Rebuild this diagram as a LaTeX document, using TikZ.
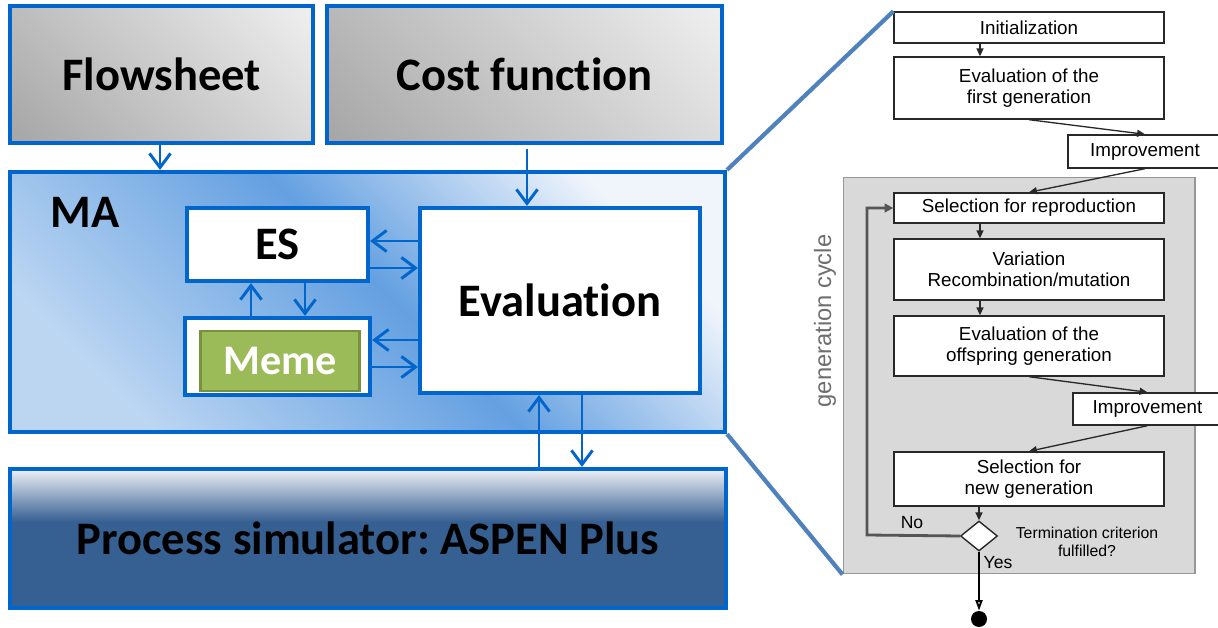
\documentclass[tikz,border=0pt]{standalone}
\usepackage{fontspec}
\setmainfont{Carlito}[Ligatures=NoCommon]
\newfontfamily\flowfont{Liberation Sans}
\usetikzlibrary{arrows.meta,shapes.geometric,calc}
\definecolor{boxblue}{RGB}{0,102,204}
\definecolor{zoomblue}{RGB}{79,129,189}
\definecolor{fsdark}{RGB}{150,150,150}
\definecolor{fslight}{RGB}{255,255,255}
\definecolor{malight}{RGB}{188,214,242}
\definecolor{madark}{RGB}{100,160,225}
\definecolor{mawhite}{RGB}{240,245,252}
\definecolor{simlight}{RGB}{238,240,246}
\definecolor{simdark}{RGB}{54,95,146}
\definecolor{memegreen}{RGB}{155,187,89}
\definecolor{memeedge}{RGB}{118,146,60}
\definecolor{cyclegray}{RGB}{217,217,217}
\definecolor{cycleedge}{RGB}{150,150,150}
\definecolor{flowedge}{RGB}{40,40,40}
\definecolor{loopgray}{RGB}{85,85,85}
\definecolor{labelgray}{RGB}{110,110,110}
\pgfdeclareverticalshading{fsshade}{100bp}{color(0bp)=(fsdark); color(100bp)=(fslight)}
\pgfdeclareverticalshading{mashade}{100bp}{color(0bp)=(malight); color(25bp)=(malight); color(52bp)=(madark); color(75bp)=(mawhite); color(100bp)=(mawhite)}
\pgfdeclareverticalshading{simshade}{100bp}{color(0bp)=(simdark); color(56bp)=(simdark); color(75bp)=(simlight); color(100bp)=(simlight)}
\frenchspacing

\begin{document}
\begin{tikzpicture}[x=0.02cm,y=-0.02cm,
  bluebox/.style={draw=boxblue,line width=2.4pt,font=\fontsize{26.5}{30}\selectfont\bfseries},
  barrow/.style={draw=boxblue,line width=1.7pt,-{Straight Barb[length=8pt,width=12pt]}},
  flowbox/.style={draw=flowedge,fill=white,line width=0.8pt,minimum width=5.4cm,align=center,inner sep=1pt,
    font=\flowfont\fontsize{10.7}{12}\selectfont},
  farrow/.style={draw=flowedge,line width=0.75pt,-{Triangle[length=4.5pt,width=4pt]}},
  zoomline/.style={draw=zoomblue,line width=2.4pt}]
\useasboundingbox (0,0) rectangle (1218,628);

% input boxes
\node[bluebox,shade,shading=fsshade,shading angle=-45,
  minimum width=6.06cm,minimum height=2.74cm] (fs) at (161.5,74.5) {Flowsheet};
\node[bluebox,shade,shading=fsshade,shading angle=-45,
  minimum width=7.9cm,minimum height=2.74cm] (cf) at (524.5,74.5) {Cost function};

% memetic algorithm
\node[bluebox,shade,shading=mashade,shading angle=-45,
  minimum width=14.3cm,minimum height=5.2cm] (ma) at (367.5,302) {};
\node[font=\fontsize{26.5}{30}\selectfont\bfseries] (matext) at (85,212) {MA};
\node[bluebox,fill=white,minimum width=3.62cm,minimum height=1.46cm] (es) at (277.5,244.5) {ES};
\node[bluebox,fill=white,minimum width=3.7cm,minimum height=1.54cm] (memebox) at (277.5,356.5) {};
\node[draw=memeedge,fill=memegreen,line width=1.7pt,text=white,
  font=\fontsize{24}{28}\selectfont\bfseries,
  minimum width=3.2cm,minimum height=1.2cm] (meme) at (280,361) {Meme};
\node[bluebox,fill=white,minimum width=5.6cm,minimum height=3.7cm] (eval) at (560,300.5) {\raisebox{-2.5pt}{Evaluation}};

% simulator
\node[bluebox,shade,shading=simshade,
  minimum width=14.32cm,minimum height=2.78cm] (sim) at (368,538.5) {Process simulator: ASPEN Plus};

% blue connectors
\draw[barrow] (fs.south -| 160,0) -- (ma.north -| 160,0);
\draw[barrow] ([yshift=-2.3pt]cf.south -| 527,0) -- (eval.north -| 527,0);
\draw[barrow] (eval.west |- 0,241) -- (es.east |- 0,241);
\draw[barrow] (es.east |- 0,268) -- (eval.west |- 0,268);
\draw[barrow] (eval.west |- 0,340) -- (memebox.east |- 0,340);
\draw[barrow] (memebox.east |- 0,367) -- (eval.west |- 0,367);
\draw[barrow] (memebox.north -| 251,0) -- (es.south -| 251,0);
\draw[barrow] (es.south -| 305,0) -- (memebox.north -| 305,0);
\draw[barrow] (sim.north -| 539,0) -- (eval.south -| 539,0);
\draw[barrow] (eval.south -| 582,0) -- (sim.north -| 582,0);

% evolution strategy flowchart
\node[fill=cyclegray,draw=cycleedge,line width=0.6pt,minimum width=7.04cm,minimum height=7.94cm] (cycle) at (1019,375.5) {};
\node[flowbox,minimum height=0.62cm] (init) at (1029,27.5) {Initialization};
\node[flowbox,minimum height=1.24cm] (ev1) at (1029,88) {Evaluation of the\\first generation};
\node[flowbox,minimum width=3.08cm,minimum height=0.66cm] (imp1) at (1145,151.5) {Improvement};
\node[flowbox,minimum height=0.6cm] (sel1) at (1029,208) {Selection for reproduction};
\node[flowbox,minimum height=1.22cm] (var) at (1029,269.5) {Variation\\Recombination/mutation};
\node[flowbox,minimum height=1.2cm] (ev2) at (1029,346) {Evaluation of the\\offspring generation};
\node[flowbox,minimum width=2.98cm,minimum height=0.64cm] (imp2) at (1147.5,409) {Improvement};
\node[flowbox,minimum height=1.08cm] (sel2) at (1029,479) {Selection for\\new generation};
\node[diamond,draw=flowedge,fill=white,line width=0.8pt,inner sep=0pt,
  minimum width=0.74cm,minimum height=0.6cm] (dia) at (979,536) {};
\node[circle,fill=black,inner sep=0pt,minimum size=0.32cm] (stop) at (979,619) {};

\node[font=\flowfont\fontsize{9}{10.5}\selectfont,align=center] (term) at (1087,542) {Termination criterion\\fulfilled?};
\node[font=\flowfont\fontsize{10}{12}\selectfont] (no) at (912,523) {No};
\node[font=\flowfont\fontsize{10}{12}\selectfont] (yes) at (998,563) {Yes};
\node[rotate=90,text=labelgray,font=\flowfont\fontsize{13.5}{16}\selectfont] (gencycle) at (825,321) {generation cycle};

\draw[farrow] (init.south -| 980,0) -- (ev1.north -| 980,0);
\draw[farrow] (ev1.south) -- (imp1.north);
\draw[farrow] (imp1.south) -- (sel1.north);
\draw[farrow] (sel1.south -| 980,0) -- (var.north -| 980,0);
\draw[farrow] (var.south -| 980,0) -- (ev2.north -| 980,0);
\draw[farrow] (ev2.south) -- (imp2.north);
\draw[farrow] (imp2.south) -- (sel2.north);
\draw[farrow] (sel2.south -| dia.north) -- (dia.north);
\draw[draw=black,line width=1.1pt,-{Triangle[length=6pt,width=4pt,open,fill=white]}] (dia.south) -- (stop.north);
\coordinate (loopc) at (867,535);
\draw[draw=loopgray,line width=1.6pt,-{Triangle[length=5pt,width=5pt]}] (dia.west) -- (loopc) |- (sel1.west);

% zoom lines
\draw[zoomline] (ma.north east) -- (init.north west);
\draw[zoomline] (ma.south east) -- (cycle.south west);
\end{tikzpicture}
\end{document}
